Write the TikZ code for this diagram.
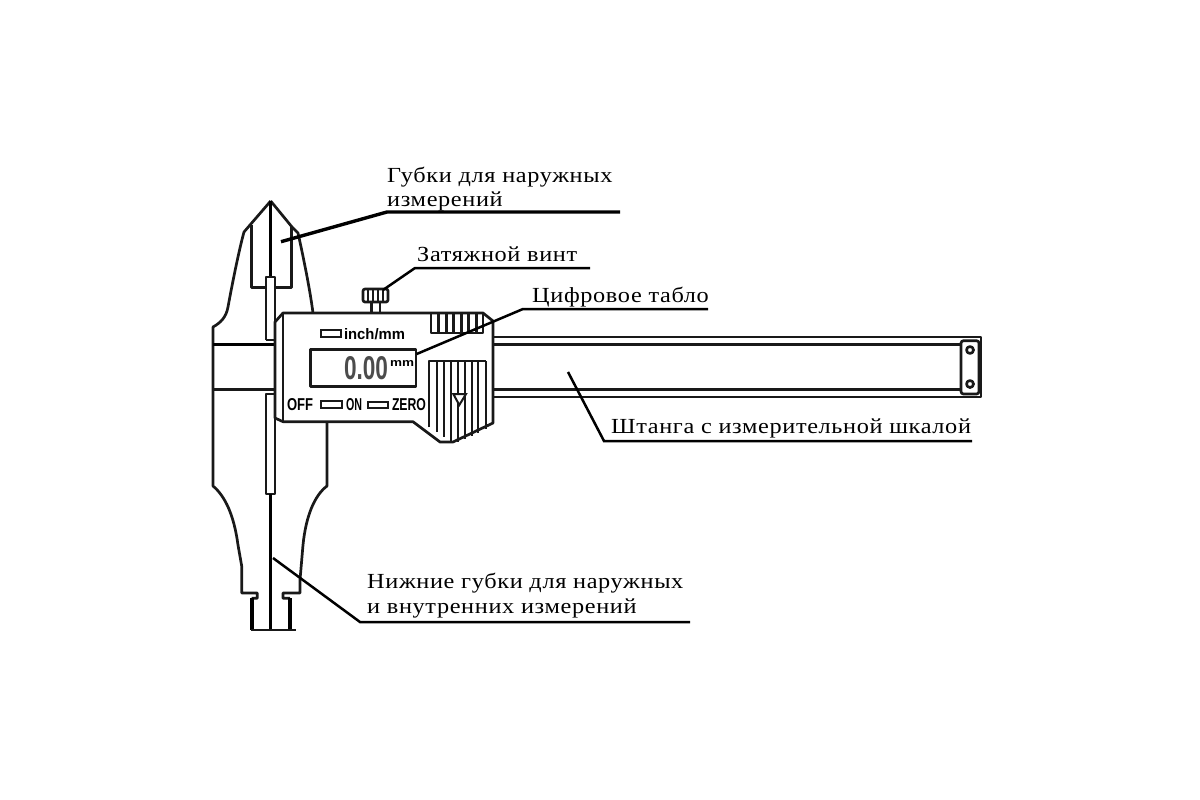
\documentclass[tikz,border=0pt]{standalone}
\usepackage{fontspec}
\usepackage{graphicx}
\setmainfont{Liberation Serif}
\newfontfamily\labelfont[FakeStretch=1.13,LetterSpace=3]{Liberation Serif}
\newfontfamily\panelfont{Liberation Sans}
\newcommand{\paneltext}[3]{\resizebox{#1pt}{#2pt}{\panelfont\bfseries #3}}
\tikzset{
  x=1pt,y=-1pt,
  thin line/.style={draw=black!90,line width=2pt},
  body line/.style={draw=black!90,line width=2.7pt,line join=round},
  heavy line/.style={draw=black,line width=3.4pt},
  leader/.style={draw=black,line width=2.5pt},
  leader thick/.style={draw=black,line width=3.4pt},
  caption/.style={anchor=base west,inner sep=0pt,font=\labelfont\fontsize{21.5}{24}\selectfont},
  panel/.style={anchor=center,inner sep=0pt},
}
\begin{document}
\begin{tikzpicture}
\useasboundingbox (0,0) rectangle (1200,800);
\fill[white] (0,0) rectangle (1200,800);

% upper jaw outline
\draw[body line] (270.7,201) -- (250,225) -- (244,232) .. controls (239,250) and (232,285) .. (228,307) .. controls (226,318) and (220,323) .. (213,327) -- (213,486)
  .. controls (225,496) and (234,515) .. (238,545) -- (241.7,566) -- (241.7,593) -- (257.3,593) -- (257.3,598.3) -- (251.7,598.3);
\draw[body line] (270.7,201) -- (292,227) -- (298,233) .. controls (304,260) and (310,290) .. (313,313);
\draw[body line] (251.5,225) -- (251.5,287.5) -- (266,287.5);
\draw[body line] (291.5,227) -- (291.5,287.5) -- (275,287.5);
\draw[heavy line] (213,344.5) -- (275,344.5);
\draw[body line] (213,389.5) -- (275,389.5);
\draw[heavy line] (270.7,201) -- (270.7,278);
\draw[body line] (266,340) -- (266,277) -- (275,277) -- (275,494) -- (266,494) -- (266,394) -- (275,394);
\draw[body line] (266,340) -- (275,340);

% lower jaw
\draw[body line] (327,423) -- (327,486) .. controls (315,495) and (306,515) .. (303,545) -- (300,580) -- (300,593) -- (283,593) -- (283,598.3) -- (290,598.3);
\draw[heavy line] (270.7,494) -- (270.7,630);
\draw[heavy line] (252,598) -- (252,630);
\draw[heavy line] (290,598) -- (290,630);
\draw[body line] (251,630) -- (296,630);

% bar
\draw[body line] (493,337) -- (981,337) -- (981,397) -- (493,397);
\draw[body line] (493,344.5) -- (961,344.5);
\draw[body line] (493,389.5) -- (961,389.5);
\draw[body line,rounded corners=2.5pt] (961,340.7) rectangle (979,394);
\draw[body line] (970,350) circle[radius=3.5];
\draw[body line] (970,384) circle[radius=3.5];

% screw
\draw[body line] (371.7,302) -- (371.7,313);
\draw[body line] (380,302) -- (380,313);
\draw[body line,rounded corners=2pt,fill=white] (363,289) rectangle (388,302);
\foreach \xx in {368,373,378,383} \draw[thin line] (\xx,289) -- (\xx,302);

% display body
\draw[body line,fill=white] (275,322) -- (283,313) -- (483,313) -- (493,321) -- (493,423) -- (453,442) -- (440,442) -- (413,421.7) -- (283,421.7) -- (275,418) -- cycle;
\draw[body line] (283,313) -- (283,421.7);

% knurl top
\draw[body line] (431,313) rectangle (483,333);
\foreach \xx in {438.5,446,453.5,461,468.5,476} \draw[line width=3pt,black!90] (\xx,313) -- (\xx,333);

% knob
\draw[body line] (429,427) -- (429,361) -- (486,361);
\foreach \xx/\yy in {436.7/432,443.5/437,450.7/441,457.5/442,464.5/439,471.7/436,478/433,485.5/429}
  \draw[thin line] (\xx,361) -- (\xx,\yy);
\draw[thin line,fill=white] (453.3,394) -- (466,394) -- (459.3,405) -- cycle;

% panel
\draw[body line] (310.7,349.3) rectangle (416,386.7);
\draw[thin line] (320.7,329.5) rectangle (340.7,336.7);
\draw[thin line] (320.7,401) rectangle (342,407.7);
\draw[thin line] (368,401.7) rectangle (388,407.7);
\node[panel] (inch) at (374.5,334) {\paneltext{61}{11}{inch/mm}};
\node[panel,text=black!70] (value) at (366,368.5) {\paneltext{44}{23}{0.00}};
\node[panel] (unit) at (402,363) {\paneltext{24}{6}{mm}};
\node[panel] (off) at (300,404.5) {\paneltext{26}{12}{OFF}};
\node[panel] (on) at (354,404.5) {\paneltext{16}{12}{ON}};
\node[panel] (zero) at (409,404.5) {\paneltext{34}{12}{ZERO}};

% labels
\node[caption] (l1) at (387,182) {Губки для наружных};
\node[caption] (l2) at (387,206) {измерений};
\node[caption] (l3) at (417,261) {Затяжной винт};
\node[caption] (l4) at (532,302) {Цифровое табло};
\node[caption] (l5) at (611,433) {Штанга с измерительной шкалой};
\node[caption] (l6) at (367,588) {Нижние губки для наружных};
\node[caption] (l7) at (367,613) {и внутренних измерений};

% leaders
\coordinate (a1) at (281,241.7); \coordinate (b1) at (387,212); \coordinate (c1) at (620,212);
\coordinate (a2) at (383,290); \coordinate (b2) at (415,268); \coordinate (c2) at (590,268);
\coordinate (a3) at (416.7,354); \coordinate (b3) at (523,309); \coordinate (c3) at (708,309);
\coordinate (a4) at (568,372); \coordinate (b4) at (604,441); \coordinate (c4) at (972,441);
\coordinate (a5) at (273,558); \coordinate (b5) at (360,622); \coordinate (c5) at (690,622);
\draw[leader thick] (a1) -- (b1) -- (c1);
\draw[leader] (a2) -- (b2) -- (c2);
\draw[leader] (a3) -- (b3) -- (c3);
\draw[leader] (a4) -- (b4) -- (c4);
\draw[leader] (a5) -- (b5) -- (c5);
\end{tikzpicture}
\end{document}
